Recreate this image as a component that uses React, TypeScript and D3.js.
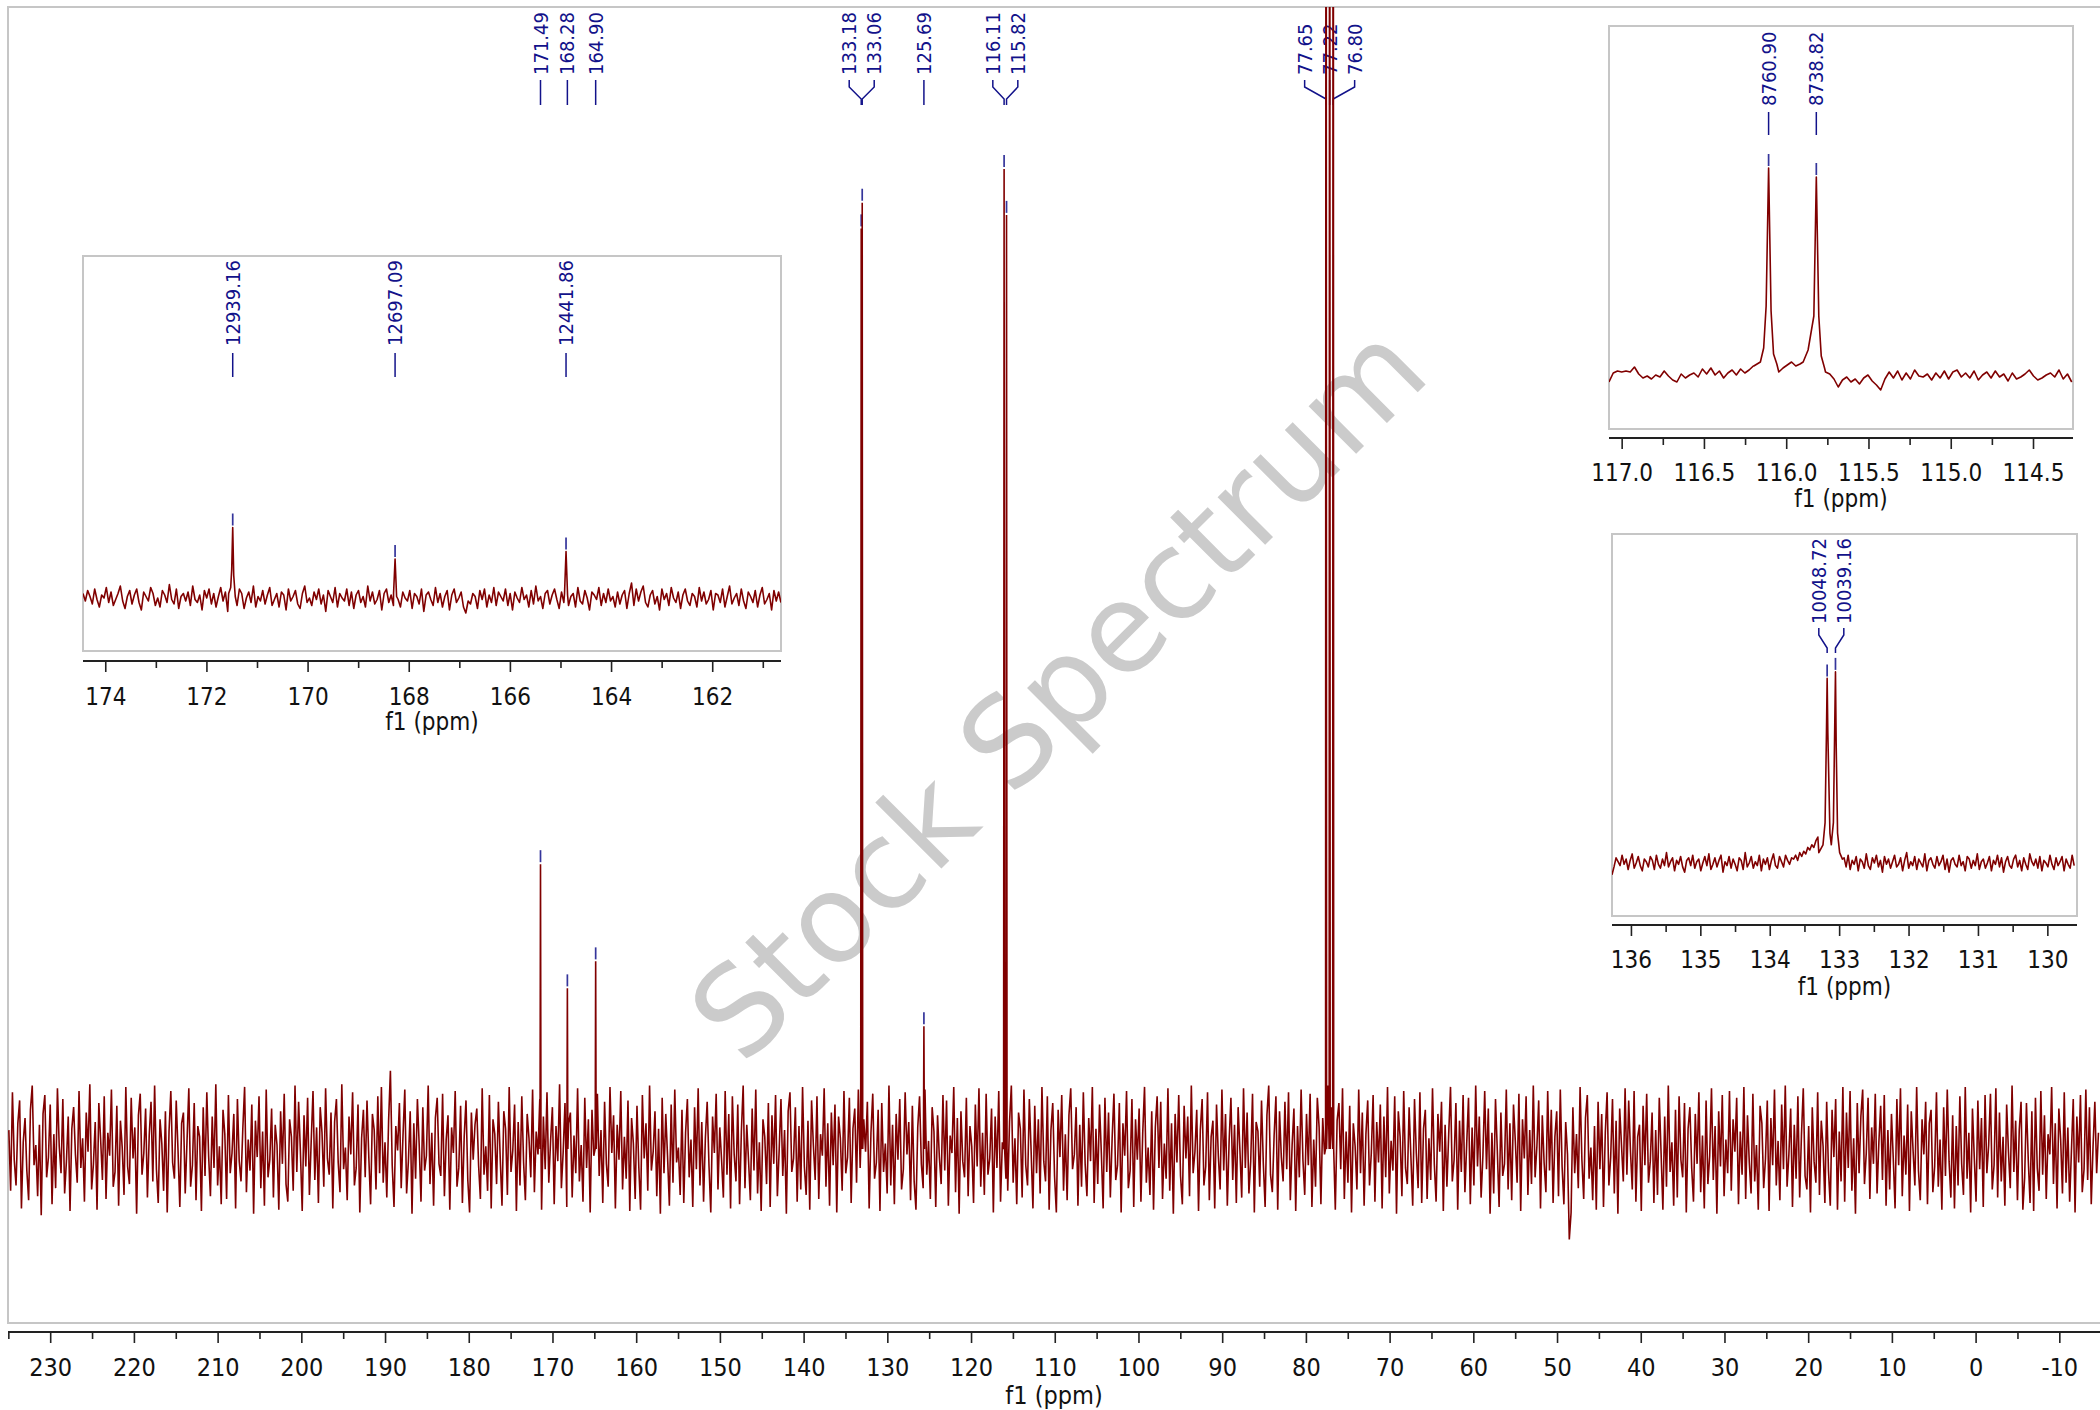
import * as d3 from "d3";

// ---------- main spectrum, f1 in ppm ----------
const mainStart = 235.0;
const mainStep = 0.215;
const mainNoise = [
  14, -31, 42, -8, -27, 19, 36, -44, 5, 23, -16, -38, 29, 47, -12, 3, -35, 18, -49, 26,
  40, -21, -6, 33, -41, 11, -29, 45, 2, -18, 37, -33, -9, 24, -46, 15, 31, -4, -25, 43,
  -14, 8, -39, 27, -2, 48, -30, -11, 20, -45, 34, 7, -23, 39, -37, 12, -5, 44, -28, -17,
  32, -42, 21, 1, -34, 46, -13, -26, 38, -7, 16, -48, 25, 41, -19, -3, 30, -36, 10, 35,
  -24, 47, -15, -40, 22, 4, -31, 28, -47, 13, 43, -10, -22, 36, -1, -43, 19, 27, -33, 6,
  45, -28, -12, 34, -38, 17, 9, -46, 31, -20, 42, -5, -35, 24, -14, 48, -27, 2, -41, 29,
  11, -37, 40, -18, -3, 26, -44, 37, -9, -24, 15, 46, -32, 7, -16, 33, -48, 21, -6, 39,
  -29, 13, -42, 44, -21, -8, 30, -36, 18, 3, -45, 28, -11, 41, -26, -39, 22, 9, -31, 47,
  -17, 35, -2, -46, 25, -13, 38, -34, 6, 43, -23, 16, -40, 31, 12, -28, 45, -7, -19, 27,
  -44, 20, 37, -10, -32, 48, -15, 1, -38, 24, -4, 42, -27, -14, 33, -47, 8, 29, -21, 36,
  -6, -41, 26, 14, -30, 39, -18, 46, -25, 5, -36, 21, 58, -12, -43, 17, -1, 34, -29, 10,
  44, -33, -9, 28, -48, 19, -22, 37, 3, -39, 31, -16, -5, 47, -26, 12, -42, 23, 38, -11,
  -20, 41, -35, 7, 25, -45, 16, -3, 43, -28, -14, 32, -40, 9, 36, -23, -47, 27, -8, 18,
  30, -12, -37, 45, -19, 2, -31, 40, -44, 22, 11, -26, 35, -6, -42, 28, 15, -34, 46, -17,
  -1, 33, -46, 20, -27, 39, -10, -38, 26, 8, -21, 44, -32, 13, -4, 37, -45, 24, -15, 42,
  -25, 6, 31, -41, 17, -9, 48, -29, -2, 34, -43, 19, 27, -36, 10, -18, 45, -24, 3, -39,
  38, -14, 22, -47, 29, -5, -33, 41, -20, 14, -40, 35, -11, -28, 46, -3, 25, -44, 18, -8,
  43, -30, 9, -22, 36, -46, 23, 4, -37, 32, -13, -45, 40, -7, 19, -31, 47, -16, -2, 28,
  -35, 15, -48, 38, -18, 26, -6, -42, 33, -25, 44, -10, 1, -34, 29, -40, 12, 37, -21, 7,
  -43, 31, -15, 45, -27, 20, -39, 8, 35, -12, -47, 24, -3, 41, -30, 16, -8, -36, 43, -19,
  26, -44, 39, -4, -24, 33, -41, 13, 47, -29, 18, -9, -38, 30, -16, 44, -33, 5, -46, 22,
  9, -26, 34, -43, 25, -11, 40, -35, -1, 37, -20, 14, -48, 28, 42, -17, -7, 31, -39, 17,
  -30, 46, -13, -34, 21, -45, 36, 3, -23, 39, -37, 11, -5, 45, -28, 19, -42, 27, -12, 33,
  -47, 24, 8, -31, 43, -18, -6, 38, -40, 15, 30, -25, 44, -14, -36, 22, -2, 35, -44, 12,
  41, -22, -10, 29, -46, 34, -17, 4, -33, 47, -27, 18, -41, 26, -8, 37, -30, -15, 42, -4,
  20, -38, 32, -24, -45, 16, 39, -11, -29, 44, -19, 6, -37, 31, 13, -43, 25, -6, -26, 40,
  -16, 36, -42, 10, -3, 46, -32, 23, -48, 28, -9, -21, 38, -35, 17, 2, -40, 33, -13, 45,
  -28, 12, -34, 41, -19, -7, 30, -47, 24, -14, 43, -39, 5, 35, -22, -31, 20, 47, -25, 8,
  -41, 27, 15, -36, 44, -12, -27, 37, -2, -44, 32, -18, 22, -33, 46, -9, -24, 39, -45, 14,
  34, -20, -47, 29, -6, 40, -31, 11, -38, 25, 45, -15, -4, 31, -42, 18, -28, 42, -11, -35,
  23, -9, 46, -40, 15, -26, 33, -3, -44, 38, -17, 27, -36, 8, 41, -23, -12, 34, -47, 19,
  -5, 43, -29, -16, 37, -43, 22, -8, 30, -39, 12, 46, -25, 1, -34, 28, -45, 16, 39, -14,
  35, -37, 4, -22, 45, -31, 19, -48, 26, -10, 40, -20, -41, 32, -7, 24, -35, 47, -18, -2,
  29, -46, 14, 37, -27, -13, 42, -38, 9, 21, -44, 33, -5, -30, 44, -16, 26, -42, 6, 38,
  -23, 18, -40, 31, -1, -36, 45, -14, 27, -33, -9, 41, -47, 20, 13, -28, 36, -11, -43, 25,
  47, -19, -32, 10, 39, -45, 28, -6, -24, 35, -15, 42, -38, 3, 30, -46, 17, -21, 44, -8,
  -34, 26, -12, 41, -43, 7, -28, 38, 16, -41, 23, -4, -36, 47, -20, 31, -9, -45, 21, 34,
  -15, 45, -37, 13, -25, 32, -47, 19, 2, -30, 44, -18, 27, -42, 11, 36, -27, -3, 40, -39,
  20, -10, 33, -44, 24, -21, 46, -33, 6, -16, 39, -48, 28, 9, -35, 43, -14, -26, 31, -6,
  -42, 37, -3, -29, 42, -40, 15, 29, -37, 8, -23, 45, -11, -39, 26, -2, 35, -46, 18, -28,
  11, 46, -24, -8, 34, -45, 21, -17, 40, -32, 4, 38, -41, 16, -27, 47, -13, 24, -36, -5,
  43, -15, 30, -48, 12, -33, 37, -1, -43, 27, -20, -11, 44, -30, 19, -38, 33, 6, -25, 41,
  -46, 22, -7, 39, -34, 14, -26, 47, -21, 2, 36, -44, 25, -10, -32, 43, -16, 29, -40, 9,
  28, -35, 44, -13, -41, 20, -4, -67, -47, 31, -18, 11, -29, 46, -8, -37, 23, 40, -22, 1,
  -38, 17, -45, 35, -15, 26, -43, 12, 42, -27, -6, 37, -33, 21, -48, 30, 3, -24, 45, -19,
  36, -2, -30, 43, -39, 9, 18, -46, 32, -12, 41, -25, -9, 27, -40, 14, -34, 38, -3, -45,
  24, -28, 47, -17, 5, -42, 29, -36, 39, -8, -21, 34, -47, 15, 31, -14, -39, 26, -11, 42,
  -32, 10, -44, 36, -26, -5, 45, -23, 17, -48, 28, -13, 40, -35, 7, -18, 43, -31, 22, -2,
  38, -41, 13, -19, 46, -37, 25, -10, -33, 41, -24, 3, -45, 32, 19, -29, -7, 36, -46, 23,
  -12, 44, -27, 6, -38, 33, -15, 47, -28, -4, 30, -43, 18, -22, 39, -36, 11, 45, -20, -30,
  17, -47, 31, -9, -25, 42, -34, 21, 2, -40, 35, -16, -42, 29, -6, 37, -45, 13, -24, 46,
  -39, 27, -14, 43, -31, 8, -48, 34, -18, 24, 44, -26, -3, 38, -37, 16, -11, 41, -33, 5,
  32, -23, 40, -42, 14, -30, 26, -7, -44, 37, -12, 45, -35, 10, -19, 33, -46, 28, -1, -27,
  46, -16, -38, 22, -4, 35, -41, 19, 29, -32, -13, 42, -28, 7, -45, 31, -20, 44, -9, -36,
  25, -44, 17, -27, 39, -11, -34, 46, -22, 12, -47, 30, -6, -39, 36, -15, 23, -43, 40, -18,
  3, 41, -30, -12, 45, -36, 27, -24, 9, -42, 33, -2, -29, 47, -17, 21, -38, 14, 35, -45,
  -21, 34, -8, -40, 28, -46, 38, -14, -31, 43, -19, 25, -37, 11, -4, 46, -26, 19, -44, 30,
  7, -33, 42, -25, 16, -39, -1, 37, -47, 24, -10, 40, -32, -15, 44, -23, 31, -41, 2, 35,
  -18, 12,
];
const mainPeakPpm = [171.49, 168.28, 164.9, 133.18, 133.06, 125.69, 116.11, 115.82, 77.65, 77.22, 76.8];
const mainPeakHeight = [211, 119, 139, 682, 701, 91, 726, 692, 1500, 1500, 1500];
const mainPeakLabels = ["171.49", "168.28", "164.90", "133.18", "133.06", "125.69", "116.11", "115.82", "77.65", "77.22", "76.80"];
const mainTicks = [230, 220, 210, 200, 190, 180, 170, 160, 150, 140, 130, 120, 110, 100, 90, 80, 70, 60, 50, 40, 30, 20, 10, 0, -10];
const mainMinorTicks = [235, 225, 215, 205, 195, 185, 175, 165, 155, 145, 135, 125, 115, 105, 95, 85, 75, 65, 55, 45, 35, 25, 15, 5, -5];

// ---------- inset 1: 174 - 161 ppm, labels in Hz ----------
const inset1Start = 174.45;
const inset1Step = 0.04615;
const inset1Noise = [
  3, -2, 5, 1, -4, 6, -1, -6, 2, 0, 7, -3, 4, -5, -1, 3, 8, -2, -7, 1,
  5, -4, 2, 6, -3, -8, 4, 1, -2, 7, 3, -5, 0, -6, 5, 2, -3, 9, -1, -4,
  6, -7, 1, 3, -2, 4, -5, 8, -1, -3, 2, -8, 5, 0, 6, -4, 3, -6, 1, 7,
  -2, 4, -9, 2, 5, -1, -5, 6, 3, -7, 0, 4, -3, 8, -6, 1, -2, 5, -4, 2,
  7, -5, -1, 3, -6, 4, 2, -8, 6, -2, 1, 5, -4, -7, 3, 8, -3, 0, -5, 4,
  -1, 6, -4, 2, -9, 5, 1, -3, 7, -6, 3, 0, -2, 6, -5, 4, -7, 2, 5, -3,
  1, -6, 8, -2, 4, -4, -1, 5, -8, 3, 6, -3, 2, -5, 7, -1, -6, 4, 0, -2,
  5, -7, 3, 1, -4, 6, -9, 2, 4, -1, -5, 7, -3, 3, -6, 1, 5, -8, 2, 6,
  -3, 0, 4, -6, -10, -2, -4, 3, 1, -7, 5, -1, 6, -6, 2, -3, 7, -5, 4, 1,
  -2, 6, -5, 3, -8, 4, 0, -3, 7, -1, 2, -6, 5, -4, 8, -2, 1, -7, 3, 5,
  -4, 2, 6, -1, -7, 4, -3, 9, -5, 1, 3, -6, 7, -2, -4, 5, 0, -8, 4, 2,
  -1, 7, -5, 3, -3, 6, -2, 1, -6, 4, -4, 2, 5, -7, 3, 10, -5, 6, -2, 4,
  8, -3, -6, 2, 5, -4, 1, -8, 6, -1, 3, -5, 7, 0, -3, 4, -7, 2, 6, -2,
  -5, 3, 1, -6, 7, -2, 4, -4, -1, 5, -8, 3, 2, -3, 6, -6, 1, 8, -4, 0,
  3, -5, 6, -2, -7, 4, 1, -3, 5, -6, 2, 7, -4, -1, 3, -8, 5, -2, 4, -3,
];
const inset1Shapes = [
  [[171.57, 3], [171.53, 7], [171.51, 19], [171.49, 47], [171.47, 15], [171.44, 1]],
  [[168.31, 3], [168.28, 26], [168.25, 1]],
  [[164.93, 3], [164.9, 31], [164.87, 2]],
];
const inset1Labels = ["12939.16", "12697.09", "12441.86"];
const inset1Ticks = [174, 172, 170, 168, 166, 164, 162];
const inset1MinorTicks = [173, 171, 169, 167, 165, 163, 161];

// ---------- inset 2: 117 - 114.3 ppm ----------
const inset2Start = 117.08;
const inset2Step = 0.0258;
const inset2Noise = [
  -6, 3, 5, 4, 5, 4, 9, 2, -2, 0,
  -3, 1, -1, 5, 0, -4, -6, 2, -2, 1,
  3, -1, 7, 2, 8, 1, 5, -2, 3, 6,
  1, 7, 3, 6, 10, 12, 14, 20, 20, 14,
  4, 8, 11, 14, 10, 12, 15, 20, 20, 20,
  20, 4, 2, -3, -11, -4, -1, -6, -3, -8,
  -2, 1, -5, -9, -14, -3, 4, -2, 5, -4,
  3, -3, 6, 0, -1, 2, -4, 3, -2, 5,
  -3, 4, 6, -1, 3, -2, 5, -4, 1, 4,
  -2, 5, -1, 2, -5, 3, -3, -1, 2, 6,
  0, -4, -2, 1, 3, -1, 6, -3, 2, -6,
];
const inset2Shapes = [
  [[116.2, 10], [116.16, 14], [116.14, 28], [116.125, 70], [116.11, 208], [116.095, 65], [116.08, 22], [116.06, 12]],
  [[115.9, 14], [115.87, 26], [115.835, 60], [115.82, 199], [115.805, 60], [115.79, 20], [115.77, 8]],
];
const inset2Labels = ["8760.90", "8738.82"];
const inset2Ticks = [117.0, 116.5, 116.0, 115.5, 115.0, 114.5];
const inset2MinorTicks = [116.75, 116.25, 115.75, 115.25, 114.75];

// ---------- inset 3: 136 - 130 ppm ----------
const inset3Start = 136.28;
const inset3Step = 0.02908;
const inset3Noise = [
  -9, -3, 4, 1, -2, 6, -1, 3, -5, 2, 7, -4, 0, 5, -2, -6, 3, 1, -3, 5,
  2, -5, 6, -1, -4, 3, -2, 8, -3, 1, 4, -6, 2, -1, 5, -3, -7, 2, 4, -2,
  6, -4, 1, 3, -6, 0, 5, -2, 7, -5, -1, 4, -3, 2, 6, -7, 1, -2, 5, -4,
  3, -1, -6, 4, 2, -5, 8, -3, 0, 5, -4, 1, -2, 6, -6, 3, -1, 4, -5, 2,
  7, -2, -4, 5, 1, -3, 6, 2, -1, 4, 3, 6, 2, 8, 5, 9, 7, 12, 10, 14,
  12, 17, 20, 20, 20, 20, 20, 20, 20, 20, 20, 20, 20, 20, 20, 4, -3, 6, -5, 2,
  -1, 5, -6, 3, 1, -4, 7, -2, -5, 4, 0, 6, -3, 2, -7, 5, -1, 3, -4, 1,
  6, -3, -1, 4, -6, 2, 8, -4, 1, -2, 5, -5, 3, 0, -3, 7, -6, 2, 4, -1,
  -4, 5, -2, 1, 6, -5, 3, -7, 2, 4, -1, -3, 6, -2, 1, -6, 5, 3, -4, 2,
  -2, 7, -5, 1, 3, -4, 0, 5, -6, 2, -1, 6, -3, 4, -7, 1, 5, -2, -4, 3,
  6, -3, 2, -6, 4, -1, -5, 7, 1, -2, 3, -4, 5, -6, 2, 0, -3, 6, -1, -5,
  4, -2, 1, 5, -6, 3, -1, -4, 6, -2,
];
const inset3Shapes = [
  [[133.3, 8], [133.24, 14], [133.21, 31], [133.19, 100], [133.18, 142], [133.17, 100], [133.14, 23], [133.12, 14]],
  [[133.09, 31], [133.07, 108], [133.06, 147], [133.05, 92], [133.03, 23], [133.0, 8], [132.96, 3]],
];
const inset3Labels = ["10048.72", "10039.16"];
const inset3Ticks = [136, 135, 134, 133, 132, 131, 130];
const inset3MinorTicks = [135.5, 134.5, 133.5, 132.5, 131.5, 130.5];

const W = 2100;
const H = 1410;
const FONT = "'DejaVu Sans Condensed', 'DejaVu Sans', sans-serif";
const RED = "#800000";
const BLUE = "#12128a";
const FRAME = "#c6c6c6";

type Pt = [number, number];

function mergeSeries(noise: number[], start: number, step: number, shapes: Pt[][]): Pt[] {
  const spans = shapes.map((s) => d3.extent(s, (d) => d[0]) as [number, number]);
  const base: Pt[] = noise
    .map((v, i) => [start - i * step, v] as Pt)
    .filter(([p]) => !spans.some(([a, b]) => p >= a - 0.001 && p <= b + 0.001));
  return base.concat(...shapes).sort((a, b) => b[0] - a[0]);
}

// spread labels of close peaks apart, centred on the group
function spreadLabels(xs: number[], spacing: number, minGap: number) {
  const out: number[] = new Array(xs.length);
  let i = 0;
  while (i < xs.length) {
    let j = i;
    while (j + 1 < xs.length && xs[j + 1] - xs[j] < minGap) j++;
    const n = j - i + 1;
    const c = d3.mean(xs.slice(i, j + 1)) ?? xs[i];
    for (let k = i; k <= j; k++) out[k] = n === 1 ? xs[k] : c + (k - i - (n - 1) / 2) * spacing;
    i = j + 1;
  }
  return out;
}

function PeakLabels({
  xs,
  tops,
  labels,
  textBottom,
  legs,
  clipTop,
  fontSize = 20
}: {
  xs: number[];
  tops: number[];
  labels: string[];
  textBottom: number;
  legs: [number, number, number, number];
  clipTop: number;
  fontSize?: number;
}) {
  const lx = spreadLabels(xs, 25, 20);
  const [y0, y1, y2, y3] = legs;
  return (
    <g>
      {labels.map((t, i) => {
        const straight = Math.abs(lx[i] - xs[i]) < 0.6;
        const d = straight
          ? `M${xs[i]},${y0}L${xs[i]},${y3}`
          : `M${lx[i]},${y0}L${lx[i]},${y1}L${xs[i]},${y2}L${xs[i]},${y3}`;
        return (
          <g key={t}>
            <text
              transform={`translate(${lx[i]},${textBottom}) rotate(-90)`}
              dominantBaseline="central"
              fill={BLUE}
              fontFamily={FONT}
              fontSize={fontSize}
            >
              {t}
            </text>
            <path d={d} fill="none" stroke={BLUE} strokeWidth={1.5} />
            {tops[i] - 14 > clipTop && (
              <line x1={xs[i]} x2={xs[i]} y1={tops[i] - 14} y2={tops[i] - 2} stroke={BLUE} strokeWidth={1.7} opacity={0.85} />
            )}
          </g>
        );
      })}
    </g>
  );
}

function Axis({
  x,
  y,
  x0,
  x1,
  ticks,
  minor,
  fmt,
  labelY,
  titleY,
  fontSize
}: {
  x: d3.ScaleLinear<number, number>;
  y: number;
  x0: number;
  x1: number;
  ticks: number[];
  minor: number[];
  fmt: (v: number) => string;
  labelY: number;
  titleY: number;
  fontSize: number;
}) {
  return (
    <g fontFamily={FONT} fontSize={fontSize} fill="#111">
      <line x1={x0} x2={x1} y1={y} y2={y} stroke="#222" strokeWidth={2} />
      {ticks.map((t) => (
        <g key={`M${t}`}>
          <line x1={x(t)} x2={x(t)} y1={y} y2={y + 11} stroke="#222" strokeWidth={1.6} />
          <text x={x(t)} y={labelY} textAnchor="middle" dominantBaseline="central">
            {fmt(t)}
          </text>
        </g>
      ))}
      {minor.map((t) => (
        <line key={`m${t}`} x1={x(t)} x2={x(t)} y1={y} y2={y + 7} stroke="#222" strokeWidth={1.6} />
      ))}
      <text x={(x0 + x1) / 2} y={titleY} textAnchor="middle" dominantBaseline="central">
        f1 (ppm)
      </text>
    </g>
  );
}

function Inset({
  id,
  box,
  domain,
  baseY,
  pxPerUnit,
  noise,
  start,
  step,
  shapes,
  labels,
  textBottom,
  legs,
  ticks,
  minor,
  fmt,
  axisY,
  labelY,
  titleY
}: {
  id: string;
  box: [number, number, number, number];
  domain: [number, number];
  baseY: number;
  pxPerUnit: number;
  noise: number[];
  start: number;
  step: number;
  shapes: Pt[][];
  labels: string[];
  textBottom: number;
  legs: [number, number, number, number];
  ticks: number[];
  minor: number[];
  fmt: (v: number) => string;
  axisY: number;
  labelY: number;
  titleY: number;
}) {
  const [bx0, by0, bx1, by1] = box;
  const x = d3.scaleLinear().domain(domain).range([bx0, bx1]);
  const y = d3.scaleLinear().domain([0, (baseY - by0) / pxPerUnit]).range([baseY, by0]);
  const series = mergeSeries(noise, start, step, shapes);
  const line = d3
    .line<Pt>()
    .x((d) => x(d[0]))
    .y((d) => y(d[1]));
  const apex = shapes.map((s) => s.reduce((a, b) => (b[1] > a[1] ? b : a)));
  return (
    <g>
      <rect x={bx0} y={by0} width={bx1 - bx0} height={by1 - by0} fill="#fff" stroke={FRAME} strokeWidth={2} />
      <clipPath id={id}>
        <rect x={bx0} y={by0} width={bx1 - bx0} height={by1 - by0} />
      </clipPath>
      <PeakLabels
        xs={apex.map((p) => x(p[0]))}
        tops={apex.map((p) => y(p[1]))}
        labels={labels}
        textBottom={textBottom}
        legs={legs}
        clipTop={by0}
      />
      <path d={line(series) ?? ""} fill="none" stroke={RED} strokeWidth={1.6} strokeLinejoin="round" clipPath={`url(#${id})`} />
      <Axis x={x} y={axisY} x0={bx0} x1={bx1} ticks={ticks} minor={minor} fmt={fmt} labelY={labelY} titleY={titleY} fontSize={24} />
    </g>
  );
}

export default function App() {
  const frame = { x0: 8, y0: 7, x1: 2104, y1: 1323 };
  const x = d3.scaleLinear().domain([235.1, -14.8]).range([8, 2100]);
  const y = d3.scaleLinear().domain([0, 846]).range([1149, 7]);
  const spikes: Pt[][] = mainPeakPpm.map((p, i) => [
    [p + 0.06, 0],
    [p, mainPeakHeight[i]],
    [p - 0.06, 0]
  ]);
  const series = mergeSeries(mainNoise, mainStart, mainStep, spikes);
  const line = d3
    .line<Pt>()
    .x((d) => x(d[0]))
    .y((d) => y(d[1]));

  return (
    <svg
      width={W}
      height={H}
      viewBox={`0 0 ${W} ${H}`}
      style={{ position: "absolute", left: 0, top: 0, background: "#fff" }}
    >
      <rect width={W} height={H} fill="#fff" />
      <clipPath id="mainClip">
        <rect x={frame.x0} y={frame.y0} width={frame.x1 - frame.x0} height={frame.y1 - frame.y0} />
      </clipPath>
      <rect
        x={frame.x0}
        y={frame.y0}
        width={frame.x1 - frame.x0}
        height={frame.y1 - frame.y0}
        fill="none"
        stroke={FRAME}
        strokeWidth={2}
      />
      <text
        transform="translate(1058,692) rotate(-45)"
        textAnchor="middle"
        dominantBaseline="central"
        fill="#cbcbcb"
        fontFamily="'DejaVu Sans', sans-serif"
        fontSize={123}
      >
        Stock Spectrum
      </text>
      <PeakLabels
        xs={mainPeakPpm.map((p) => x(p))}
        tops={mainPeakHeight.map((h) => y(h))}
        labels={mainPeakLabels}
        textBottom={75}
        legs={[80, 87, 99, 105]}
        clipTop={frame.y0}
      />
      <path d={line(series) ?? ""} fill="none" stroke={RED} strokeWidth={1.6} clipPath="url(#mainClip)" />
      <Axis
        x={x}
        y={1332}
        x0={8}
        x1={2100}
        ticks={mainTicks}
        minor={mainMinorTicks}
        fmt={(v) => String(v)}
        labelY={1367}
        titleY={1395}
        fontSize={25}
      />
      <Inset
        id="in1"
        box={[83, 256, 781, 651]}
        domain={[174.45, 160.65]}
        baseY={598}
        pxPerUnit={1.5}
        noise={inset1Noise}
        start={inset1Start}
        step={inset1Step}
        shapes={inset1Shapes as Pt[][]}
        labels={inset1Labels}
        textBottom={346}
        legs={[353, 358, 372, 377]}
        ticks={inset1Ticks}
        minor={inset1MinorTicks}
        fmt={(v) => String(v)}
        axisY={661}
        labelY={697}
        titleY={722}
      />
      <Inset
        id="in2"
        box={[1609, 26, 2073, 429]}
        domain={[117.08, 114.26]}
        baseY={376}
        pxPerUnit={1}
        noise={inset2Noise}
        start={inset2Start}
        step={inset2Step}
        shapes={inset2Shapes as Pt[][]}
        labels={inset2Labels}
        textBottom={106}
        legs={[112, 117, 130, 135]}
        ticks={inset2Ticks}
        minor={inset2MinorTicks}
        fmt={(v) => v.toFixed(1)}
        axisY={438}
        labelY={473}
        titleY={499}
      />
      <Inset
        id="in3"
        box={[1612, 534, 2077, 916]}
        domain={[136.28, 129.58]}
        baseY={863}
        pxPerUnit={1.3}
        noise={inset3Noise}
        start={inset3Start}
        step={inset3Step}
        shapes={inset3Shapes as Pt[][]}
        labels={inset3Labels}
        textBottom={624}
        legs={[628, 635, 648, 653]}
        ticks={inset3Ticks}
        minor={inset3MinorTicks}
        fmt={(v) => String(v)}
        axisY={925}
        labelY={960}
        titleY={987}
      />
    </svg>
  );
}
